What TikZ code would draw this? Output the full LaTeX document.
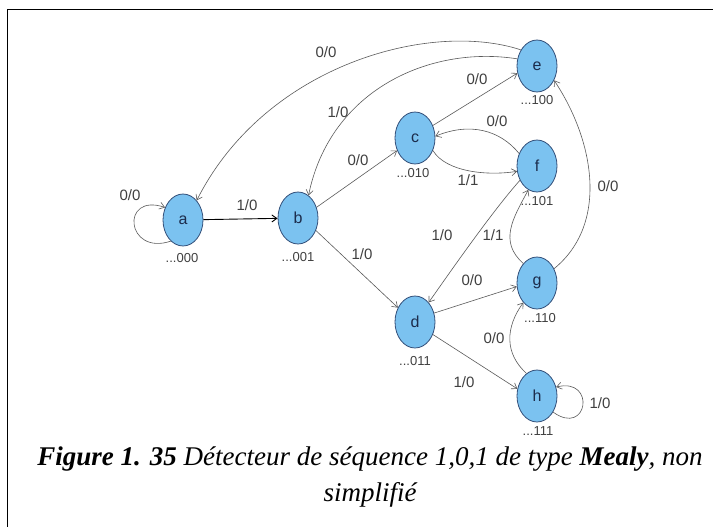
\documentclass[tikz,border=0pt]{standalone}
\usepackage{fontspec}
\setmainfont{Liberation Serif}
\setsansfont{Liberation Sans}
\usetikzlibrary{arrows.meta,shapes.geometric}
\definecolor{nodefill}{HTML}{7BC2F0}
\definecolor{nodeborder}{HTML}{34507A}
\definecolor{edgegray}{HTML}{5A5A5A}
\definecolor{lettercol}{HTML}{1C2C4C}
\definecolor{codecol}{HTML}{404040}
\tikzset{
  st/.style={ellipse, draw=nodeborder, fill=nodefill, line width=0.8pt,
    minimum width=40pt, minimum height=52pt, inner sep=0pt,
    font=\sffamily\fontsize{16}{16}\selectfont, text=lettercol},
  codetxt/.style={font=\sffamily\fontsize{13}{13}\selectfont, text=codecol, inner sep=0pt},
  lab/.style={font=\sffamily\fontsize{15}{15}\selectfont, text=codecol, inner sep=0pt},
  trans/.style={draw=edgegray, line width=0.6pt, -{Straight Barb[length=5pt,width=7pt]}},
  captxt/.style={font=\itshape\fontsize{27}{36}\selectfont, align=center, inner sep=0pt}
}
\begin{document}
\begin{tikzpicture}[x=1pt,y=-1pt]
\useasboundingbox (0,0) rectangle (723,527);
\fill[white] (0,0) rectangle (723,527);
\coordinate (fa) at (7,527);
\coordinate (fb) at (7,10);
\coordinate (fc) at (713,10);
\draw[line width=1pt] (fa) -- (fb) -- (fc);

% states
\node[st] (a) at (183,220) {a};
\node[st] (b) at (298,218) {b};
\node[st] (c) at (415,138) {c};
\node[st] (d) at (415,322) {d};
\node[st] (e) at (537,66) {e};
\node[st] (f) at (537,166) {f};
\node[st] (g) at (537,283) {g};
\node[st] (h) at (537,396) {h};

% state codes
\node[codetxt] (ca) at (182,258) {...000};
\node[codetxt] (cb) at (298,257) {...001};
\node[codetxt] (cc) at (413,173) {...010};
\node[codetxt] (cd) at (415,361) {...011};
\node[codetxt] (ce) at (537,100) {...100};
\node[codetxt] (cf) at (537,201) {...101};
\node[codetxt] (cg) at (540,318) {...110};
\node[codetxt] (ch) at (538,431) {...111};

% transitions
\draw[trans] (a.240) .. controls +(-45,15) and +(-45,-15) .. (a.145);
\node[lab] (l1) at (130,195) {0/0};

\draw[trans, draw=black, line width=0.9pt] (a) -- (b);
\node[lab] (l2) at (247,205) {1/0};

\draw[trans] (b.30) -- (c.215);
\node[lab] (l3) at (358,160) {0/0};

\draw[trans] (b.-35) -- (d.140);
\node[lab] (l4) at (362,254) {1/0};

\draw[trans] (c.35) -- (e.200);
\node[lab] (l5) at (477,79) {0/0};

\draw[trans] (f.145) .. controls (500,130) and (470,122) .. (c.5);
\node[lab] (l6) at (497,121) {0/0};

\draw[trans] (c.-35) .. controls (446,172) and (487,176) .. (f.195);
\node[lab] (l7) at (468,180) {1/1};

\draw[trans] (e.135) .. controls (430,20) and (265,65) .. (a.55);
\node[lab] (l8) at (326,52) {0/0};

\draw[trans] (e.160) .. controls (430,45) and (330,90) .. (b.65);
\node[lab] (l9) at (338,112) {1/0};

\draw[trans] (f.220) .. controls +(-25,28) and +(28,-40) .. (d.55);
\node[lab] (l10) at (442,235) {1/0};

\draw[trans] (g.125) .. controls +(-25,-22) and +(-15,28) .. (f.250);
\node[lab] (l11) at (493,235) {1/1};

\draw[trans] (g.40) .. controls +(55,-45) and +(40,60) .. (e.-40);
\node[lab] (l12) at (608,186) {0/0};

\draw[trans] (d.25) -- (g.190);
\node[lab] (l13) at (472,280) {0/0};

\draw[trans] (d.-35) -- (h.160);
\node[lab] (l14) at (464,382) {1/0};

\draw[trans] (h.115) .. controls +(-22,-20) and +(-18,25) .. (g.235);
\node[lab] (l15) at (494,338) {0/0};

\draw[trans] (h.-45) .. controls +(35,25) and +(40,-10) .. (h.25);
\node[lab] (l16) at (600,403) {1/0};

% caption
\node[captxt] (captext) at (370,477) {\textbf{Figure 1. 35} Détecteur de séquence 1,0,1 de type \textbf{Mealy}, non\\simplifié};
\end{tikzpicture}
\end{document}
